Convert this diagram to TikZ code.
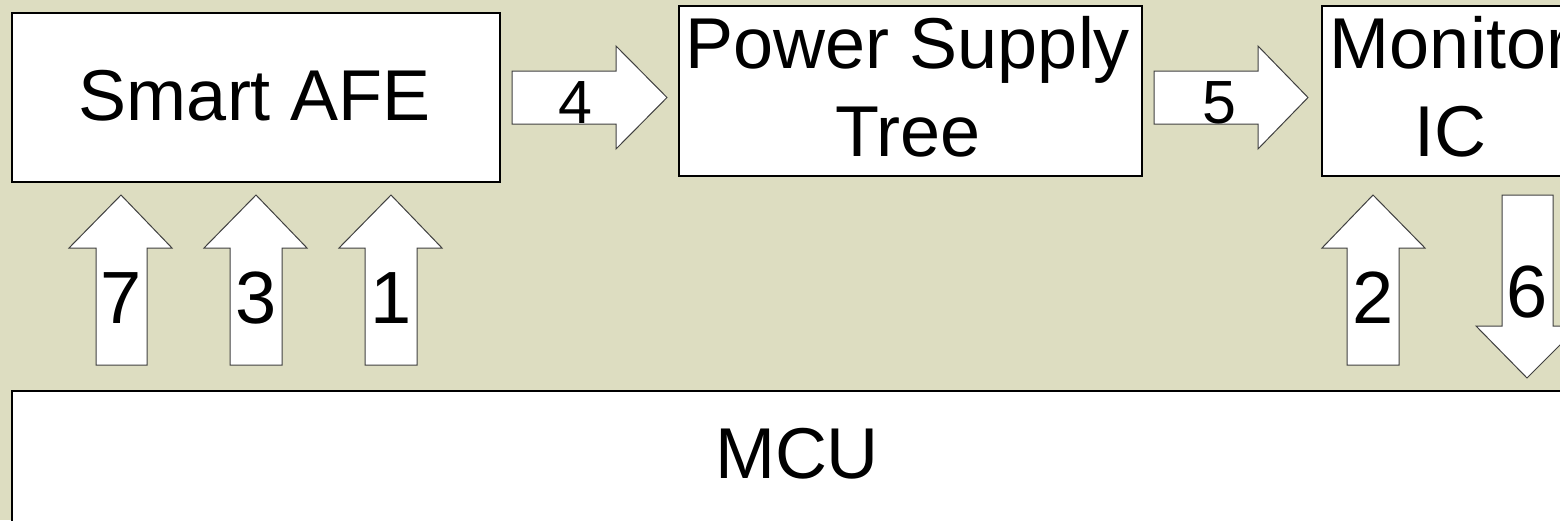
\documentclass[tikz,border=0pt]{standalone}
\usepackage{fontspec}
\setmainfont{Liberation Sans}
\definecolor{bgc}{RGB}{221,221,193}
\definecolor{edgec}{RGB}{64,64,64}
\begin{document}
\begin{tikzpicture}[x=1pt,y=-1pt,
  box/.style={draw=black, fill=white, line width=2pt, inner sep=0pt, outer sep=0pt},
  blk/.style={draw=edgec, fill=white, line width=1pt, line join=miter},
  big/.style={font=\fontsize{72}{88}\selectfont, inner sep=0pt, align=center},
  num/.style={font=\fontsize{74}{88}\selectfont, inner sep=0pt, anchor=base},
  numh/.style={font=\fontsize{61}{70}\selectfont, inner sep=0pt, anchor=base}]
\fill[bgc] (0,0) rectangle (1560,520);
\useasboundingbox (0,0) rectangle (1560,520);
\clip (0,0) rectangle (1560,520);
% boxes
\node[box, line width=2.5pt, minimum width=488pt, minimum height=169pt] (afe) at (256,97.5) {};
\node[box, minimum width=463pt, minimum height=170pt] (pst) at (910.5,91) {};
\node[box, minimum width=256pt, minimum height=170pt] (mon) at (1450,91) {};
\node[box, line width=2.5pt, minimum width=1580pt, minimum height=200pt] (mcu) at (802,491) {};
% box texts
\node[big, anchor=base] (afeT) at (255,120) {Smart AFE};
\node[big] (pstT) at (908,87) {Power Supply\\Tree};
\node[big] (monT) at (1450,87) {Monitor\\IC};
\node[big, anchor=base] (mcuT) at (797,478) {MCU};
% block arrows
\draw[blk] (512,71) -- (616,71) -- (616,46) -- (667,97.5) -- (616,149) -- (616,124) -- (512,124) -- cycle;
\node[numh] (n4) at (575,123) {4};
\draw[blk] (1154,71) -- (1258,71) -- (1258,46) -- (1308,97.5) -- (1258,149) -- (1258,124) -- (1154,124) -- cycle;
\node[numh] (n5) at (1219,123) {5};
\draw[blk] (121,195) -- (172,248) -- (147,248) -- (147,365) -- (96,365) -- (96,248) -- (69,248) -- cycle;
\node[num] (n7) at (121,323) {7};
\draw[blk] (256,195) -- (307,248) -- (282,248) -- (282,365) -- (230,365) -- (230,248) -- (204,248) -- cycle;
\node[num] (n3) at (256,323) {3};
\draw[blk] (391,195) -- (442,248) -- (417,248) -- (417,365) -- (365,365) -- (365,248) -- (339,248) -- cycle;
\node[num] (n1) at (391,323) {1};
\draw[blk] (1373,195) -- (1425,248) -- (1399,248) -- (1399,365) -- (1347,365) -- (1347,248) -- (1322,248) -- cycle;
\node[num] (n2) at (1373,323) {2};
\draw[blk] (1502,195) -- (1553,195) -- (1553,326) -- (1579,326) -- (1527,378) -- (1476,326) -- (1502,326) -- cycle;
\node[num] (n6) at (1527,317) {6};
\end{tikzpicture}
\end{document}
